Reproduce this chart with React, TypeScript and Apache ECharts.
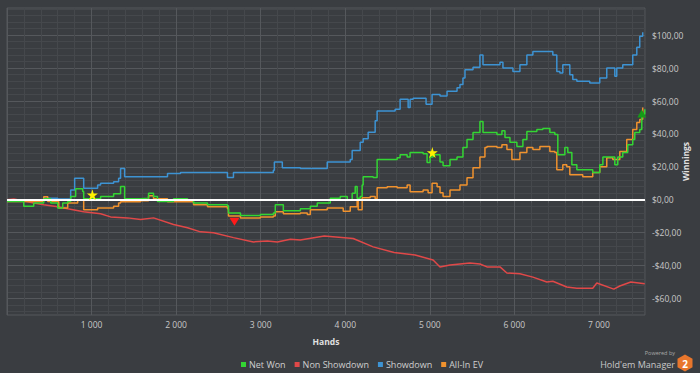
import React, { useEffect, useRef } from "react";
import * as echarts from "echarts";

// [hands, winnings $]
const netWon: [number, number][] = [
  [0, -1], [198, -4], [316, -2], [434, 0.6], [517, -2], [600, -5], [659, -2], [718, -1], [753, 2], [812, 6.7],
  [895, 5], [907, 0.6], [1107, 2], [1261, 3.6], [1343, 8], [1391, 0.6], [1580, 1], [1674, 4], [1733, 2], [1780, -1],
  [1969, 0.6], [2135, 0], [2206, -2], [2371, -3], [2607, -3.7], [2619, -8], [2761, -9.6], [2996, -9], [3150, -8], [3173, -3],
  [3268, -6.7], [3469, -5.5], [3587, -4], [3669, -2], [3823, 1], [3941, 2], [4024, 0], [4082, 4], [4118, 8], [4141, 1],
  [4177, 2], [4200, 9], [4212, 14], [4330, 13.5], [4377, 24.4], [4614, 25.6], [4649, 27.4], [4732, 26], [4767, 28.7], [4921, 28],
  [4968, 22.6], [5003, 26], [5039, 27.4], [5121, 23], [5157, 20.7], [5239, 24.4], [5322, 26], [5392, 31.7], [5440, 36.6], [5511, 40.8],
  [5593, 47.6], [5629, 40.8], [5794, 39.6], [5853, 42], [5889, 37.8], [5948, 35], [6030, 32.3], [6101, 36.6], [6148, 41.5], [6266, 42.7],
  [6337, 43.3], [6420, 40.8], [6479, 39.6], [6514, 27.4], [6597, 31.7], [6632, 28.7], [6680, 21.3], [6739, 18.3], [6927, 16.5], [7010, 21.3],
  [7047, 26], [7188, 21.3], [7223, 26], [7282, 28.7], [7341, 33.5], [7400, 36.6], [7424, 40.8], [7483, 42.7], [7507, 52], [7542, 55],
];

const nonShowdown: [number, number][] = [
  [0, 0], [80, 0.5], [316, -2], [434, -3], [600, -4.3], [718, -5.5], [907, -7.3], [1107, -8.5], [1225, -10.4], [1426, -11],
  [1580, -12], [1733, -11], [1969, -15], [2135, -17], [2288, -19.5], [2442, -20], [2678, -23], [2914, -25.6], [3079, -25], [3197, -25.6],
  [3351, -24], [3469, -24.4], [3752, -22], [4094, -23.5], [4330, -28.6], [4578, -32], [4826, -33.5], [5039, -36.6], [5121, -40.8], [5239, -39.6],
  [5475, -38.4], [5593, -39], [5676, -40.8], [5830, -40.8], [5912, -44.5], [6066, -45], [6219, -47], [6384, -50], [6455, -49.5], [6620, -53],
  [6739, -53.7], [6927, -53.7], [6975, -50.6], [7176, -54.3], [7247, -52.4], [7377, -50], [7542, -51],
];

const showdown: [number, number][] = [
  [0, 0], [434, 1], [600, 0.5], [753, 6], [800, 13], [907, 7], [1072, 9], [1107, 10], [1261, 11], [1320, 13],
  [1343, 19], [1391, 14], [1898, 16], [2052, 16.5], [2607, 13.5], [2678, 16.5], [3150, 18], [3162, 23], [3256, 19.5], [3469, 19],
  [3787, 23], [4059, 24.4], [4082, 30], [4177, 35], [4212, 37], [4271, 41], [4354, 48], [4377, 54], [4590, 55], [4649, 61],
  [4744, 56], [4767, 61], [4803, 61.6], [4956, 58], [5027, 64], [5121, 63], [5204, 66], [5322, 68], [5357, 70], [5392, 74],
  [5416, 79], [5511, 80.5], [5593, 88], [5629, 82], [5830, 83.5], [5865, 80], [5983, 78], [6066, 82], [6148, 88], [6219, 90],
  [6455, 88], [6502, 78], [6538, 77], [6573, 82], [6656, 76], [6691, 73], [6739, 72], [6892, 71], [7010, 74], [7093, 80],
  [7188, 75], [7211, 80], [7282, 82], [7400, 88], [7448, 92.7], [7483, 99.4], [7518, 101.8],
];

const allInEv: [number, number][] = [
  [0, -1], [434, 1.8], [482, -1], [612, -5], [718, -2], [836, 0], [907, -6], [1072, -5], [1261, -4], [1320, -2],
  [1343, -1.2], [1580, -0.6], [1674, 2.4], [1733, 0.6], [1898, -1.2], [2206, -3], [2371, -4.3], [2607, -5.5], [2619, -9.8], [2761, -11],
  [2996, -10.4], [3150, -9.8], [3173, -7.3], [3268, -8.5], [3469, -8], [3551, -9], [3587, -6], [3787, -5], [3976, -7], [4059, -4.3],
  [4141, 0], [4153, -6], [4200, 1.2], [4295, 2], [4354, 0.6], [4377, 7.3], [4496, 7.9], [4614, 7.3], [4732, 9], [4767, 4.9],
  [4921, 6], [4980, 4.3], [5027, 10], [5086, 7.9], [5121, 4.3], [5157, 2], [5239, 6], [5357, 9], [5440, 13.4], [5511, 19.5],
  [5593, 26], [5652, 31.7], [5676, 32.3], [5794, 31.7], [5853, 33.5], [5912, 30.5], [5971, 24.4], [6030, 24.4], [6066, 28.7], [6148, 31.7],
  [6219, 30.5], [6302, 32.3], [6420, 29.3], [6479, 28.7], [6502, 18.3], [6573, 21.3], [6620, 20], [6656, 15.2], [6739, 15.2], [6809, 14],
  [6892, 14], [6927, 16.5], [7010, 20], [7093, 25.6], [7164, 24.4], [7247, 29.3], [7329, 36.6], [7400, 42.7], [7448, 46.9], [7483, 48.8],
  [7518, 56],
];

const starPoints: [number, number][] = [[1010, 3], [5030, 28.7]];
const worstPoint: [number, number] = [2690, -13.4];
const bestPoint: [number, number] = [7507, 52.4];

const legendNames = ["Net Won", "Non Showdown", "Showdown", "All-In EV"];

const X_MIN = 0;
const X_MAX = 7545;
const Y_MIN = -70;
const Y_MAX = 116.5;

const STAR = "path://M50,0 L61,35 L98,35 L68,57 L79,91 L50,70 L21,91 L32,57 L2,35 L39,35 Z";

const BG = "#3a3d41";
const MAJOR = "#55585c";
const MINOR = "#45484c";
const NONE = "rgba(0,0,0,0)";
const FONT = "'Open Sans', 'Noto Sans', sans-serif";

function fmtMoney(v: number): string {
  const a = Math.abs(v);
  return (v < 0 ? "-$" : "$") + a + ",00";
}

export default function App() {
  const ref = useRef<HTMLDivElement>(null);
  useEffect(() => {
    if (!ref.current) return;
    const chart = echarts.init(ref.current, null, { renderer: "svg" });
    const lineBase = (name: string, data: [number, number][], color: string, z: number, step: any = "end") => ({
      name,
      type: "line",
      data,
      step,
      symbol: "none",
      z,
      lineStyle: { color, width: 1.5 },
      itemStyle: { color },
    });
    chart.setOption({
      animation: false,
      backgroundColor: BG,
      textStyle: { fontFamily: FONT },
      grid: {
        left: 7,
        right: 55,
        top: 8,
        bottom: 58,
        show: true,
        borderColor: MAJOR,
        borderWidth: 1,
        backgroundColor: NONE,
        containLabel: false,
        outerBoundsMode: "none",
      },
      xAxis: {
        type: "value",
        min: X_MIN,
        max: X_MAX,
        interval: 200,
        name: "Hands",
        nameLocation: "middle",
        nameGap: 22,
        nameMoveOverlap: false,
        nameTextStyle: { color: "#e0e0e0", fontSize: 8.5, fontWeight: "bold", fontFamily: FONT },
        axisLine: { show: false },
        axisTick: { show: true, length: 3, lineStyle: { color: MAJOR } },
        axisLabel: {
          color: "#c8c8c8",
          fontSize: 8.5,
          margin: 5,
          fontFamily: FONT,
          formatter: (v: number) => (v > 0 && v % 1000 === 0 ? `${v / 1000} 000` : ""),
        },
        splitLine: { show: true, lineStyle: { color: [MAJOR, MINOR, MINOR, MINOR, MINOR], width: 1 } },
      },
      yAxis: {
        type: "value",
        position: "right",
        min: Y_MIN,
        max: Y_MAX,
        interval: 2,
        name: "Winnings",
        nameLocation: "middle",
        nameRotate: 90,
        nameGap: 36,
        nameMoveOverlap: false,
        nameTextStyle: { color: "#e0e0e0", fontSize: 8.5, fontWeight: "bold", fontFamily: FONT },
        axisLine: { show: false },
        axisTick: { show: false },
        axisLabel: {
          color: "#c8c8c8",
          fontSize: 8.5,
          margin: 7,
          fontFamily: FONT,
          formatter: (v: number) => (Math.abs(v % 20) < 1e-9 ? fmtMoney(v) : ""),
        },
        splitLine: {
          show: true,
          lineStyle: { color: [NONE, MINOR, NONE, MINOR, NONE, MAJOR, NONE, MINOR, NONE, MINOR], width: 1 },
        },
      },
      legend: {
        data: legendNames,
        left: 241,
        bottom: 4,
        padding: 0,
        icon: "rect",
        itemWidth: 5,
        itemHeight: 5,
        itemGap: 9,
        textStyle: { color: "#cfcfcf", fontSize: 9, fontFamily: FONT, padding: [0, 0, 0, -2] },
      },
      series: [
        lineBase("Non Showdown", nonShowdown, "#e04848", 2, false),
        lineBase("Showdown", showdown, "#3d93d3", 2),
        lineBase("All-In EV", allInEv, "#f0922e", 3),
        {
          ...lineBase("Net Won", netWon, "#33d633", 4),
          markLine: {
            silent: true,
            symbol: "none",
            label: { show: false },
            lineStyle: { color: "#ffffff", width: 2, type: "solid" },
            data: [{ yAxis: 0 }],
          },
          markPoint: {
            silent: true,
            label: { show: false },
            data: [
              ...starPoints.map((c) => ({
                coord: c,
                symbol: STAR,
                symbolSize: 11,
                itemStyle: { color: "#fff200" },
              })),
              { coord: worstPoint, symbol: "triangle", symbolRotate: 180, symbolSize: [10, 8], itemStyle: { color: "#ff1a1a" } },
              { coord: bestPoint, symbol: "triangle", symbolSize: [9, 8], itemStyle: { color: "#169a16" } },
            ],
          },
        },
      ],
      graphic: [
        {
          type: "text",
          x: 675,
          y: 353,
          style: { text: "Powered by", fill: "#a8a8a8", fontSize: 5.5, fontFamily: FONT, align: "right", verticalAlign: "middle" },
        },
        {
          type: "text",
          x: 675,
          y: 364,
          style: { text: "Hold'em Manager", fill: "#c8c8c8", fontSize: 9, fontFamily: FONT, align: "right", verticalAlign: "middle" },
        },
        {
          type: "polygon",
          shape: {
            points: [
              [685, 354.5], [692.5, 358.8], [692.5, 367.2], [685, 371.5], [677.5, 367.2], [677.5, 358.8],
            ],
          },
          style: { fill: "#e8762c" },
        },
        {
          type: "text",
          x: 685,
          y: 363.5,
          style: {
            text: "2",
            fill: "#ffffff",
            fontSize: 10,
            fontWeight: "bold",
            fontFamily: FONT,
            align: "center",
            verticalAlign: "middle",
          },
        },
      ],
    });
    return () => chart.dispose();
  }, []);
  return (
    <div
      ref={ref}
      style={{ position: "fixed", left: 0, top: 0, width: 700, height: 373 }}
    />
  );
}
